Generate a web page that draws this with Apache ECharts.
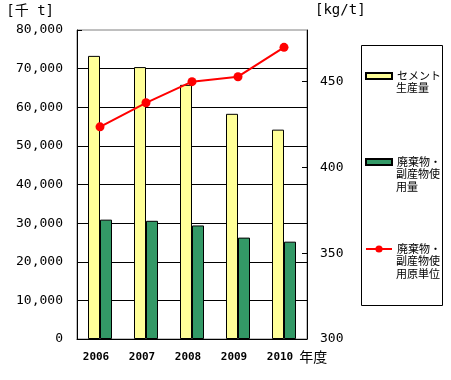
<!DOCTYPE html>
<html><head><meta charset="utf-8">
<script src="https://cdn.jsdelivr.net/npm/echarts@6/dist/echarts.min.js"></script>
<style>html,body{margin:0;padding:0;background:#fff}#c{width:451px;height:380px}</style>
</head><body><div id="c"></div>
<script>
const years = ['2006','2007','2008','2009','2010'];
const cementProduction = [73300, 70400, 65800, 58300, 54200];
const wasteUse = [30900, 30600, 29400, 26250, 25200];
const wasteUnit = [423.6, 437.6, 449.9, 452.8, 469.9];
const leftTicks = {min: 0, max: 80000, interval: 10000};
const rightTicks = {min: 300, max: 480, interval: 50};
const names = ['セメント生産量', '廃棄物・副産物使用量', '廃棄物・副産物使用原単位'];
const legendLines = [['セメント', '生産量'], ['廃棄物・', '副産物使', '用量'], ['廃棄物・', '副産物使', '用原単位']];

const numFont = 'DejaVu Sans Mono, Noto Sans CJK JP';
const jpFont = 'Noto Sans CJK JP';
const chart = echarts.init(document.getElementById('c'), null, {renderer: 'canvas'});
function fmt(v){ return v.toString().replace(/\B(?=(\d{3})+(?!\d))/g, ','); }
const legendFirstY = [76, 162, 249];
function legendFor(i, icon){
  return {
    data: [{name: names[i], icon: icon}],
    left: 365, top: legendFirstY[i] - 7, orient: 'vertical', padding: 0,
    itemWidth: 26, itemHeight: i === 2 ? 9 : 6,
    formatter: () => legendLines[i][0],
    selectedMode: false,
    textStyle: {fontFamily: jpFont, fontSize: 11, color: '#000', lineHeight: 14}
  };
}
const legendText = [];
legendLines.forEach((lines, i) => {
  lines.slice(1).forEach((t, j) => {
    legendText.push({type: 'text', left: 396, top: legendFirstY[i] + 13 * (j + 1) - 7,
      style: {text: t, font: '11px "Noto Sans CJK JP"', fill: '#000'}});
  });
});
chart.setOption({
  animation: false,
  backgroundColor: '#fff',
  graphic: [{type: 'rect', shape: {x: 361.5, y: 45.5, width: 81, height: 260},
    style: {fill: '#fff', stroke: '#000', lineWidth: 1}, z: -1}].concat(legendText),
  legend: [legendFor(0, 'rect'), legendFor(1, 'rect'), legendFor(2, undefined)],
  grid: {left: 77, top: 30, width: 230, height: 309, show: true, borderColor: '#808080', borderWidth: 1, backgroundColor: 'transparent'},
  xAxis: {
    type: 'category', data: years,
    name: '年度', nameLocation: 'end', nameGap: -9,
    nameTextStyle: {fontFamily: jpFont, fontSize: 14, color: '#000', verticalAlign: 'top', align: 'left', padding: [11, 0, 0, 0]},
    axisLine: {lineStyle: {color: '#000', width: 1}},
    axisTick: {inside: true, length: 4, lineStyle: {color: '#000'}},
    axisLabel: {fontFamily: numFont, fontSize: 11, fontWeight: 'bold', color: '#000', margin: 13, padding: [0, 8, 0, 0]}
  },
  yAxis: [{
    type: 'value', min: leftTicks.min, max: leftTicks.max, interval: leftTicks.interval,
    name: '[千 t]', nameLocation: 'end', nameGap: 12,
    nameTextStyle: {fontFamily: numFont, fontSize: 14, color: '#000', align: 'right', padding: [0, 23, 0, 0]},
    axisLine: {show: true, lineStyle: {color: '#000'}},
    axisTick: {show: true, inside: true, length: 5, lineStyle: {color: '#000'}},
    axisLabel: {fontFamily: numFont, fontSize: 13, color: '#000', margin: 14, formatter: fmt},
    splitLine: {show: true, showMaxLine: false, lineStyle: {color: '#000', width: 1}}
  }, {
    type: 'value', min: rightTicks.min, max: rightTicks.max, interval: rightTicks.interval,
    position: 'right',
    name: '[kg/t]', nameLocation: 'end', nameGap: 13,
    nameTextStyle: {fontFamily: numFont, fontSize: 14, color: '#000', align: 'left', padding: [0, 0, 0, 8]},
    axisLine: {show: true, lineStyle: {color: '#000'}},
    axisTick: {show: true, inside: true, length: 5, lineStyle: {color: '#000'}},
    axisLabel: {fontFamily: numFont, fontSize: 13, color: '#000', margin: 13, showMaxLabel: false,
      formatter: v => (v === 480 ? '' : String(v))},
    splitLine: {show: false}
  }],
  series: [{
    name: names[0], type: 'bar', data: cementProduction, barWidth: 12, barGap: '0%',
    itemStyle: {color: '#FFFF99', borderColor: '#000', borderWidth: 1}
  }, {
    name: names[1], type: 'bar', data: wasteUse, barWidth: 12, barGap: '0%',
    itemStyle: {color: '#339966', borderColor: '#000', borderWidth: 1}
  }, {
    name: names[2], type: 'line', yAxisIndex: 1, data: wasteUnit,
    symbol: 'circle', symbolSize: 9,
    lineStyle: {color: '#FF0000', width: 2}, itemStyle: {color: '#FF0000'}
  }]
});
</script></body></html>
